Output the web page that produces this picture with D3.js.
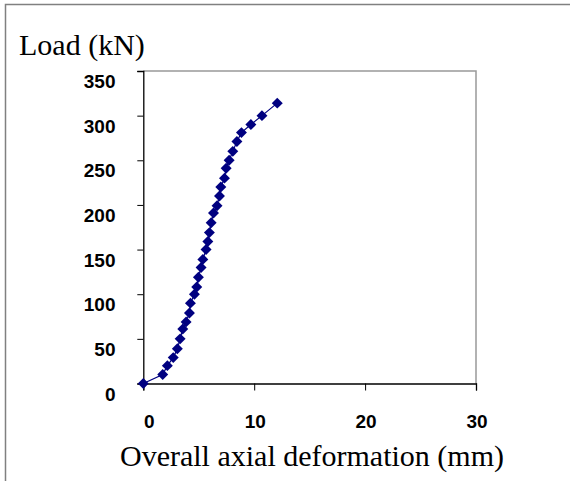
<!DOCTYPE html>
<html>
<head>
<meta charset="utf-8">
<script src="https://cdn.jsdelivr.net/npm/d3@7"></script>
<style>
    body { margin: 0; background: #fff; }
    svg { display: block; }
    .tick-label { font-family: "Liberation Sans", Arial, sans-serif; font-weight: bold; font-size: 19px; fill: #000; }
    .title { font-family: "Liberation Serif", "Times New Roman", serif; font-size: 30px; fill: #000; }
</style>
</head>
<body>
<svg width="570" height="481"></svg>
<script>
// deformation (mm) and load (kN)
var deformation = [0, 1.75, 2.17, 2.7, 3.07, 3.32, 3.56, 3.86, 4.16, 4.25, 4.61, 4.82, 4.97, 5.21, 5.37, 5.66,
    5.82, 5.96, 6.12, 6.33, 6.65, 6.87, 6.99, 7.32, 7.47, 7.74, 8.07, 8.44, 8.85, 9.7, 10.7, 12.08];
var load = [0, 10, 20, 29, 39, 50, 61, 69, 79, 90, 100, 108, 119, 130, 139, 150,
    159, 169, 180, 191, 199, 210, 220, 230, 241, 250, 260, 271, 281, 290, 300, 314];
var xTicks = [0, 10, 20, 30];
var yTicks = [0, 50, 100, 150, 200, 250, 300, 350];

window.onload = main;

function main() {
    var svg = d3.select("svg");

    var left = 143.3, right = 476, top = 71, bottom = 383.5;

    var x = d3.scaleLinear().domain([0, 30]).range([left, right]);
    var y = d3.scaleLinear().domain([0, 350]).range([bottom, top]);

    // outer frame (runs off the right and bottom edge)
    svg.append("rect")
        .attr("x", 5.5).attr("y", 4.5)
        .attr("width", 700).attr("height", 700)
        .attr("fill", "none")
        .attr("stroke", "#808080")
        .attr("stroke-width", 1.5);

    // plot area top and right border
    svg.append("path")
        .attr("d", "M" + left + "," + top + "H" + right + "V" + bottom)
        .attr("fill", "none")
        .attr("stroke", "#999")
        .attr("stroke-width", 1.5);

    // y axis
    var yAxis = svg.append("g")
        .attr("transform", "translate(" + left + ",0)")
        .call(d3.axisLeft(y).tickValues(yTicks).tickSize(6).tickFormat(""));
    yAxis.select(".domain").attr("stroke", "#000").attr("stroke-width", 1.3);
    yAxis.selectAll(".tick line").attr("stroke", "#000");

    svg.append("g").selectAll("text")
        .data(yTicks)
        .enter()
        .append("text")
        .attr("class", "tick-label")
        .attr("text-anchor", "end")
        .attr("x", 115.5)
        .attr("y", function (d) { return y(d) + 17; })
        .text(function (d) { return d; });

    // x axis
    var xAxis = svg.append("g")
        .attr("transform", "translate(0," + bottom + ")")
        .call(d3.axisBottom(x).tickValues(xTicks).tickSize(7).tickFormat(""));
    xAxis.select(".domain").attr("stroke", "#000").attr("stroke-width", 1.3);
    xAxis.selectAll(".tick line").attr("stroke", "#000");

    svg.append("g").selectAll("text")
        .data(xTicks)
        .enter()
        .append("text")
        .attr("class", "tick-label")
        .attr("text-anchor", "middle")
        .attr("x", function (d) { return x(d) + (d === 0 ? 6 : 1); })
        .attr("y", 428)
        .text(function (d) { return d; });

    // titles
    svg.append("text")
        .attr("class", "title")
        .attr("x", 19)
        .attr("y", 55)
        .text("Load (kN)");

    svg.append("text")
        .attr("class", "title")
        .attr("text-anchor", "middle")
        .attr("x", 312)
        .attr("y", 466)
        .text("Overall axial deformation (mm)");

    // series
    var pts = deformation.map(function (d, i) { return [d, load[i]]; });

    var line = d3.line()
        .x(function (d) { return x(d[0]); })
        .y(function (d) { return y(d[1]); });

    svg.append("path")
        .datum(pts)
        .attr("d", line)
        .attr("fill", "none")
        .attr("stroke", "#000080")
        .attr("stroke-width", 1.2);

    var marker = d3.symbol().type(d3.symbolSquare).size(60);

    svg.append("g").selectAll("path")
        .data(pts)
        .enter()
        .append("path")
        .attr("d", marker)
        .attr("fill", "#000080")
        .attr("transform", function (d) {
            return "translate(" + x(d[0]) + "," + y(d[1]) + ") rotate(45)";
        });
}
</script>
</body>
</html>
